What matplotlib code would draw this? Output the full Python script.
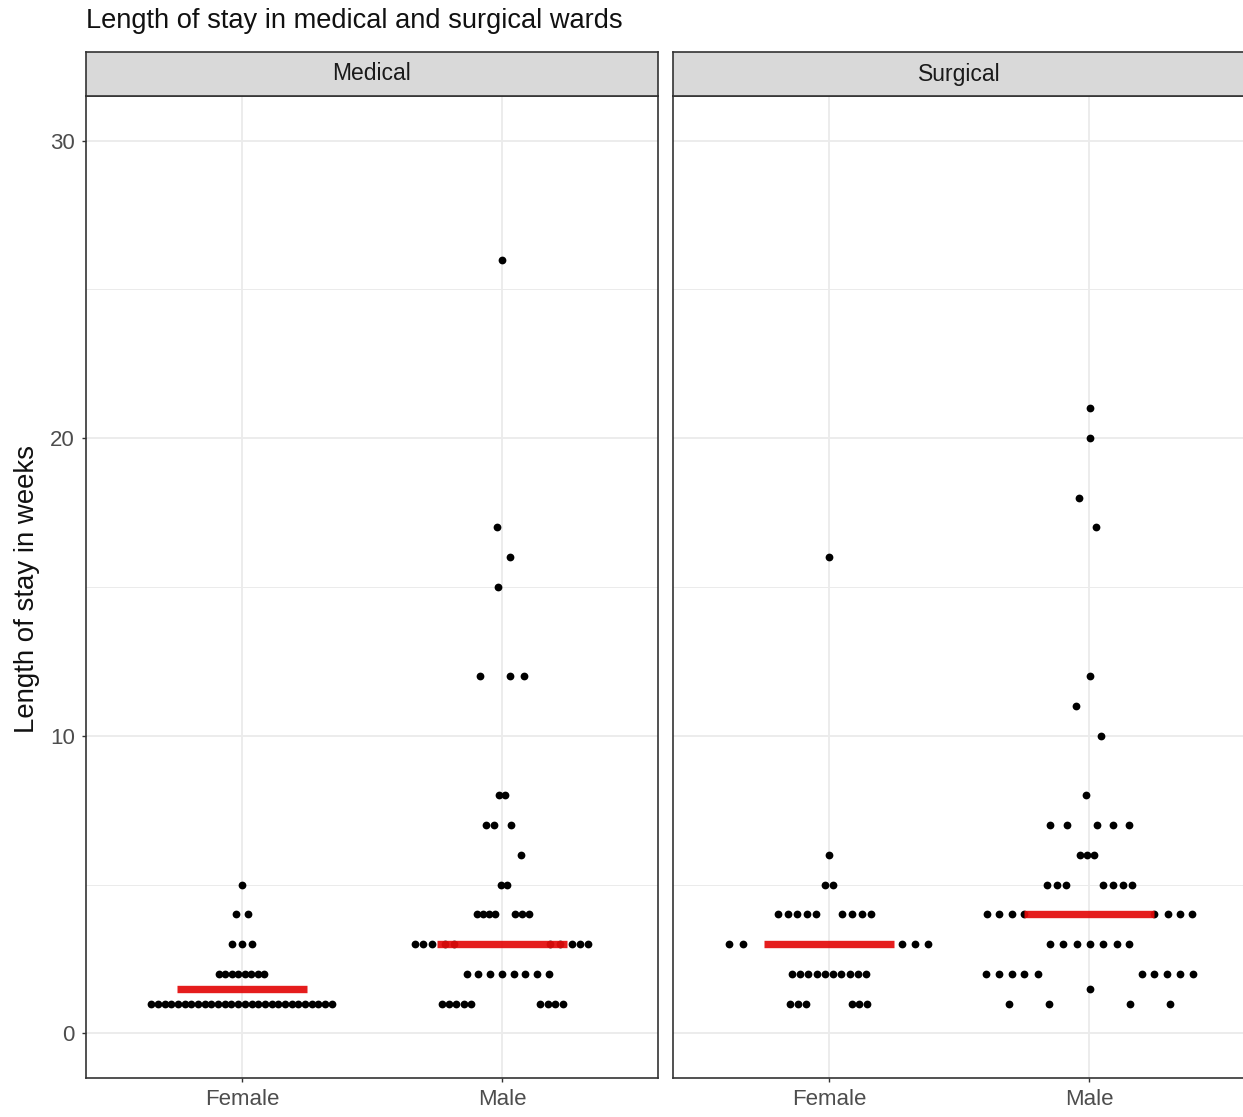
import matplotlib
matplotlib.use("Agg")
import matplotlib.pyplot as plt

plt.rcParams['font.family'] = ['Liberation Sans', 'DejaVu Sans']

TITLE = 'Length of stay in medical and surgical wards'
Y_LABEL = 'Length of stay in weeks'
WARDS = ['Medical', 'Surgical']
SEXES = ['Female', 'Male']

# weeks per patient, and the sideways spread of each dot (in category units)
med_female_weeks = [5, 4, 4, 3, 3, 3,
                    2, 2, 2, 2, 2, 2, 2, 2,
                    1, 1, 1, 1, 1, 1, 1, 1, 1, 1, 1, 1, 1, 1,
                    1, 1, 1, 1, 1, 1, 1, 1, 1, 1, 1, 1, 1, 1]
med_female_jitter = [0.000, -0.023, 0.023, -0.038, 0.000, 0.038,
                     -0.088, -0.064, -0.039, -0.014, 0.010, 0.035, 0.060, 0.085,
                     -0.350, -0.324, -0.298, -0.273, -0.247, -0.221, -0.195,
                     -0.170, -0.144, -0.118, -0.092, -0.066, -0.041, -0.015,
                     0.011, 0.037, 0.063, 0.088, 0.114, 0.140, 0.166,
                     0.191, 0.217, 0.243, 0.269, 0.294, 0.320, 0.346]

med_male_weeks = [26, 17, 16, 15, 12, 12, 12, 8, 8, 7, 7, 7, 6, 5, 5,
                  4, 4, 4, 4, 4, 4, 4,
                  3, 3, 3, 3, 3, 3, 3, 3, 3, 3,
                  2, 2, 2, 2, 2, 2, 2, 2,
                  1, 1, 1, 1, 1, 1, 1, 1, 1]
med_male_jitter = [0.000, -0.019, 0.031, -0.015, -0.085, 0.031, 0.085,
                   -0.012, 0.012, -0.062, -0.031, 0.035, 0.073, -0.004, 0.019,
                   -0.096, -0.073, -0.050, -0.027, 0.050, 0.077, 0.104,
                   -0.335, -0.304, -0.269, -0.219, -0.185,
                   0.185, 0.223, 0.269, 0.300, 0.331,
                   -0.136, -0.091, -0.047, 0.001, 0.045, 0.090, 0.135, 0.179,
                   -0.231, -0.204, -0.175, -0.146, -0.119,
                   0.146, 0.177, 0.204, 0.235]

surg_female_weeks = [16, 6, 5, 5,
                     4, 4, 4, 4, 4, 4, 4, 4, 4,
                     3, 3, 3, 3, 3,
                     2, 2, 2, 2, 2, 2, 2, 2, 2, 2,
                     1, 1, 1, 1, 1, 1]
surg_female_jitter = [0.000, 0.000, -0.015, 0.015,
                      -0.195, -0.159, -0.122, -0.086, -0.050,
                      0.049, 0.087, 0.126, 0.162,
                      -0.383, -0.332, 0.280, 0.331, 0.382,
                      -0.142, -0.111, -0.079, -0.047, -0.016,
                      0.016, 0.047, 0.079, 0.111, 0.142,
                      -0.150, -0.119, -0.088, 0.088, 0.117, 0.146]

surg_male_weeks = [21, 20, 18, 17, 12, 11, 10, 8,
                   7, 7, 7, 7, 7, 6, 6, 6,
                   5, 5, 5, 5, 5, 5, 5,
                   4, 4, 4, 4, 4, 4, 4, 4,
                   3, 3, 3, 3, 3, 3, 3,
                   2, 2, 2, 2, 2, 2, 2, 2, 2, 2,
                   1.5, 1, 1, 1, 1]
surg_male_jitter = [0.004, 0.004, -0.038, 0.027, 0.004, -0.050, 0.046, -0.012,
                    -0.150, -0.085, 0.031, 0.092, 0.154, -0.035, -0.008, 0.019,
                    -0.162, -0.123, -0.088, 0.054, 0.092, 0.131, 0.165,
                    -0.392, -0.346, -0.296, -0.250, 0.250, 0.304, 0.350, 0.396,
                    -0.150, -0.100, -0.046, 0.004, 0.054, 0.108, 0.154,
                    -0.396, -0.346, -0.296, -0.250, -0.196,
                    0.204, 0.250, 0.300, 0.350, 0.400,
                    0.004, -0.308, -0.154, 0.158, 0.312]

medians = {'Medical': [1.5, 3], 'Surgical': [3, 4]}

groups = {
    'Medical': [(med_female_weeks, med_female_jitter), (med_male_weeks, med_male_jitter)],
    'Surgical': [(surg_female_weeks, surg_female_jitter), (surg_male_weeks, surg_male_jitter)],
}

W, H = 1243, 1117
fig = plt.figure(figsize=(W / 100, H / 100), dpi=100)

border = '#333333'
grid = '#ebebeb'

panel_x = [86, 673]
panel_w = 572
panel_top, panel_bot = 96, 1078
strip_top = 52

for k, ward in enumerate(WARDS):
    x0 = panel_x[k]
    ax = fig.add_axes([x0 / W, (H - panel_bot) / H, panel_w / W, (panel_bot - panel_top) / H])
    for i, (weeks, jit) in enumerate(groups[ward]):
        xs = [i + j for j in jit]
        ax.plot(xs, weeks, 'o', color='black', markersize=5.6, markeredgewidth=0, zorder=3)
        ax.hlines(medians[ward][i], i - 0.25, i + 0.25, color='#e30b0b', linewidth=5.3,
                  alpha=0.93, zorder=4)

    ax.set_xlim(-0.6, 1.6)
    ax.set_ylim(-1.5, 31.5)
    ax.set_xticks([0, 1])
    ax.set_xticklabels(SEXES)
    ax.set_yticks([0, 10, 20, 30])
    ax.set_yticks([5, 15, 25], minor=True)
    ax.grid(True, which='major', color=grid, linewidth=1.3, zorder=0)
    ax.grid(True, which='minor', axis='y', color=grid, linewidth=0.7, zorder=0)
    ax.set_axisbelow(True)
    for s in ax.spines.values():
        s.set_color(border)
        s.set_linewidth(1.2)
    ax.tick_params(axis='both', which='major', length=3, width=1, color=border,
                   labelsize=16, labelcolor='#4d4d4d', pad=5)
    ax.tick_params(axis='y', which='minor', length=0)
    if k == 1:
        ax.tick_params(axis='y', which='major', left=False, labelleft=False)

    sax = fig.add_axes([x0 / W, (H - panel_top) / H, panel_w / W, (panel_top - strip_top) / H])
    sax.set_facecolor('#d9d9d9')
    sax.set_xticks([])
    sax.set_yticks([])
    for s in sax.spines.values():
        s.set_color(border)
        s.set_linewidth(1.2)
    sax.text(0.5, 0.5, ward, ha='center', va='center', fontsize=16.5, color='#1a1a1a',
             transform=sax.transAxes)

fig.text(86 / W, 1 - 21 / H, TITLE, ha='left', va='center', fontsize=19.6, color='#111111')
fig.text(27 / W, 1 - 589 / H, Y_LABEL, ha='center', va='center', rotation=90,
         fontsize=19.9, color='#111111')

fig.savefig('out.png', dpi=100)
